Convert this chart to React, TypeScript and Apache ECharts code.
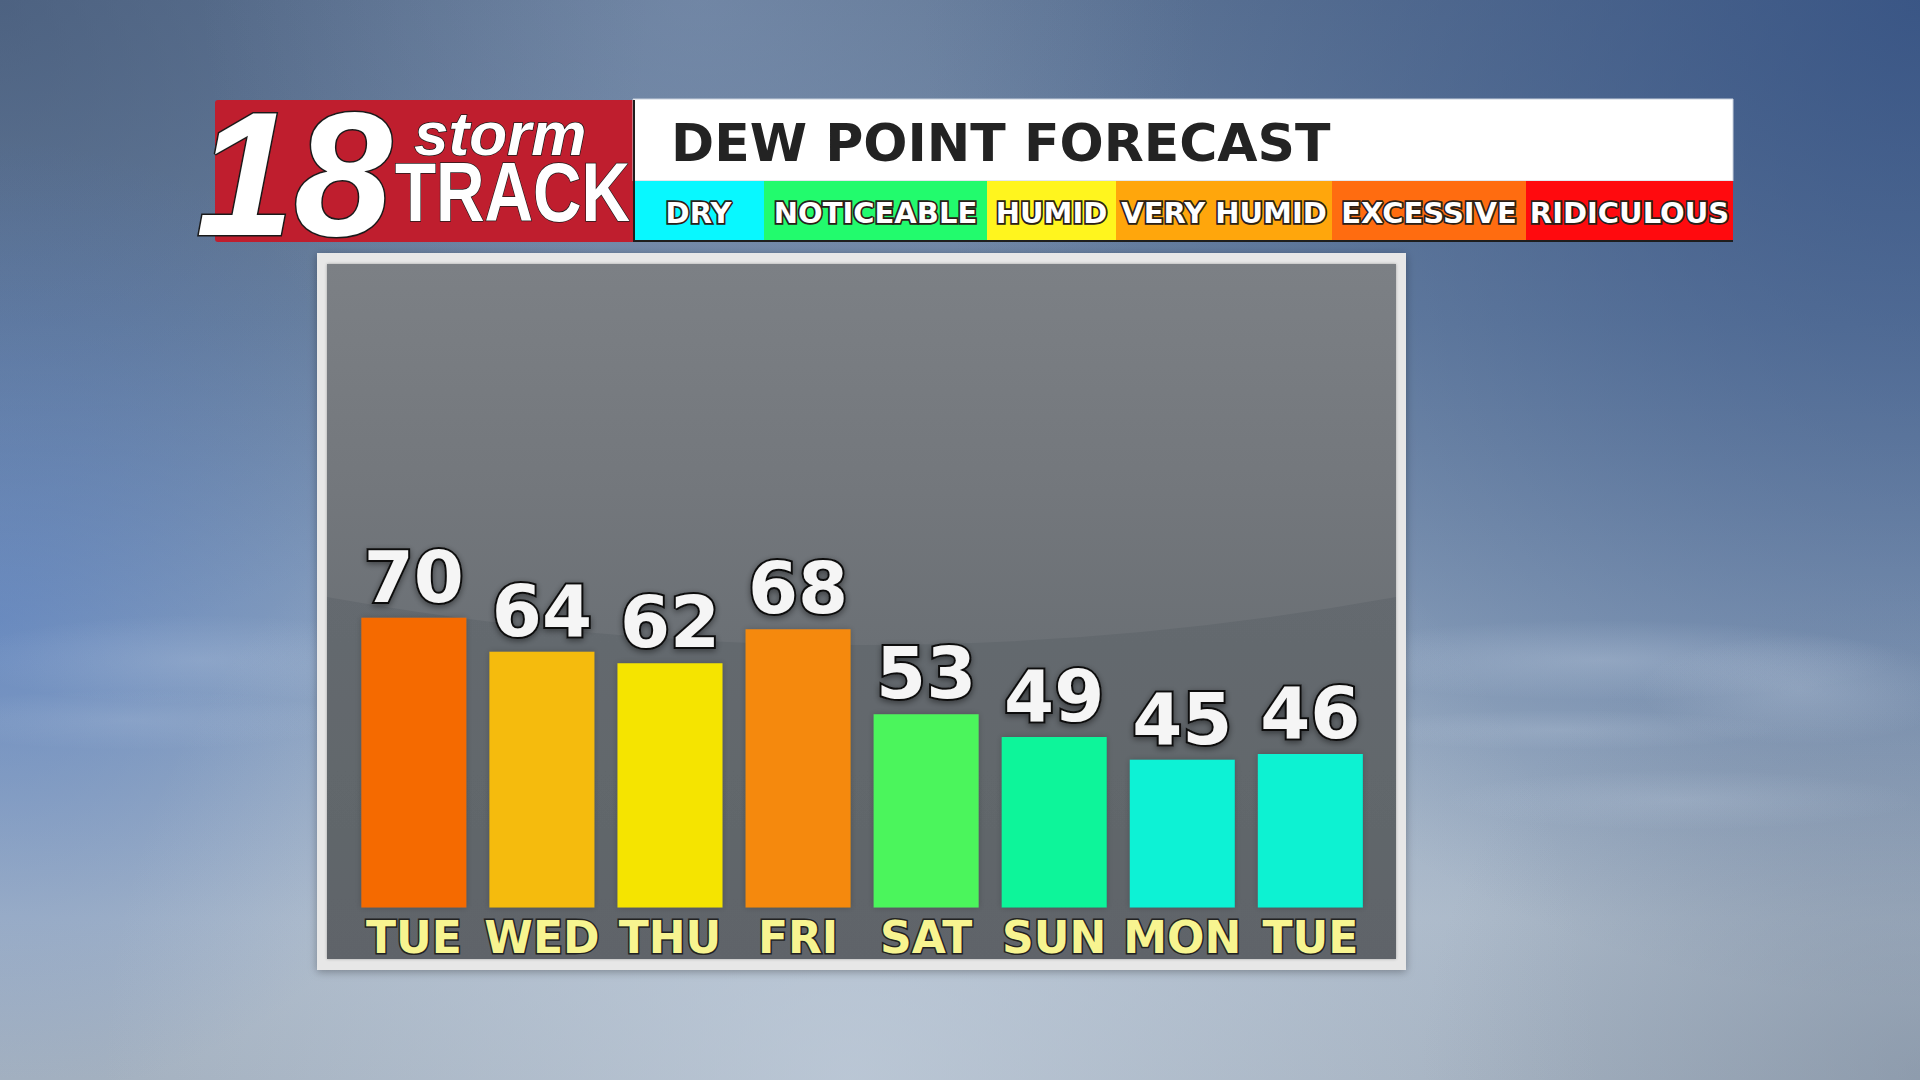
import React, { useEffect, useRef } from "react";
import * as echarts from "echarts";

// ---------- data ----------
const days = ["TUE", "WED", "THU", "FRI", "SAT", "SUN", "MON", "TUE"];
const dewPoints = [70, 64, 62, 68, 53, 49, 45, 46];
const barColors = ["#f56a06", "#f5bb08", "#f5e406", "#f5890a", "#4cf55c", "#08f59a", "#08f2d5", "#08f2d2"];
const legendLabels = ["DRY", "NOTICEABLE", "HUMID", "VERY HUMID", "EXCESSIVE", "RIDICULOUS"];
const legendColors = ["#08f8ff", "#22fb6d", "#fff51e", "#ffa60c", "#ff6c10", "#ff0a0e"];
const titleText = "DEW POINT FORECAST";
const logoNumber = "18";
const logoTop = "storm";
const logoBottom = "TRACK";

// ---------- layout ----------
const LEGEND_EDGES = [633, 764, 987, 1116, 1332, 1526, 1733];
const FONT = "'DejaVu Sans', 'Liberation Sans', sans-serif";
const LOGO_FONT = "'Liberation Sans', Arial, sans-serif";

echarts.graphic.registerShape(
  "panelGlow",
  echarts.graphic.extendPath("M327,264 L1396,264 L1396,597 Q863,693 327,597 Z", {})
);

function blob(cx: number, cy: number, r: number, color: string, z2: number) {
  return {
    type: "circle",
    z: 0,
    z2,
    silent: true,
    shape: { cx, cy, r },
    style: {
      fill: {
        type: "radial",
        x: 0.5,
        y: 0.5,
        r: 0.5,
        colorStops: [
          { offset: 0, color },
          { offset: 1, color: color.replace(/[\d.]+\)$/, "0)") },
        ],
      },
    },
  };
}

function cloud(cx: number, cy: number, rx: number, ry: number, alpha: number, z2: number) {
  return {
    type: "ellipse",
    z: 0,
    z2,
    silent: true,
    shape: { cx, cy, rx, ry },
    style: {
      fill: {
        type: "radial",
        x: 0.5,
        y: 0.5,
        r: 0.5,
        colorStops: [
          { offset: 0, color: `rgba(215,226,240,${alpha})` },
          { offset: 1, color: "rgba(215,226,240,0)" },
        ],
      },
    },
  };
}

export default function App() {
  const ref = useRef<HTMLDivElement>(null);

  useEffect(() => {
    if (!ref.current) return;
    const chart = echarts.init(ref.current, undefined, { renderer: "svg" });

    const bg: any[] = [
      {
        type: "rect",
        z: 0,
        z2: 0,
        silent: true,
        shape: { x: 0, y: 0, width: 1920, height: 1080 },
        style: {
          fill: {
            type: "linear",
            x: 0,
            y: 0,
            x2: 0,
            y2: 1,
            colorStops: [
              { offset: 0, color: "#627896" },
              { offset: 0.3, color: "#7189a8" },
              { offset: 0.6, color: "#8ea3bd" },
              { offset: 0.85, color: "#aab8c8" },
              { offset: 1, color: "#a4b1c0" },
            ],
          },
        },
      },
      blob(1920, 0, 1000, "rgba(45,75,128,0.75)", 1),
      blob(0, 0, 650, "rgba(60,80,112,0.55)", 2),
      blob(0, 620, 480, "rgba(80,122,195,0.55)", 3),
      blob(850, 1080, 750, "rgba(200,212,226,0.6)", 4),
      blob(700, 0, 500, "rgba(140,160,192,0.35)", 5),
      blob(1920, 1080, 500, "rgba(115,130,150,0.45)", 6),
      cloud(1600, 660, 300, 40, 0.25, 7),
      cloud(1800, 690, 160, 55, 0.22, 8),
      cloud(1560, 730, 220, 20, 0.16, 9),
      cloud(1680, 800, 240, 30, 0.16, 10),
      cloud(200, 660, 240, 45, 0.18, 11),
      cloud(130, 720, 220, 30, 0.14, 12),
    ];

    const panel: any[] = [
      {
        type: "rect",
        z: 1,
        z2: 0,
        silent: true,
        shape: { x: 317, y: 253, width: 1089, height: 717 },
        style: { fill: "#e7e7e7", shadowBlur: 8, shadowColor: "rgba(0,0,0,0.3)", shadowOffsetY: 2 },
      },
      {
        type: "rect",
        z: 1,
        z2: 1,
        silent: true,
        shape: { x: 327, y: 264, width: 1069, height: 695 },
        style: {
          fill: {
            type: "linear",
            x: 0,
            y: 0,
            x2: 0,
            y2: 1,
            colorStops: [
              { offset: 0, color: "#6a6f74" },
              { offset: 1, color: "#5f6469" },
            ],
          },
          shadowBlur: 3,
          shadowColor: "rgba(0,0,0,0.3)",
        },
      },
      {
        type: "panelGlow",
        z: 1,
        z2: 2,
        silent: true,
        style: {
          fill: {
            type: "linear",
            x: 0,
            y: 0,
            x2: 0,
            y2: 1,
            colorStops: [
              { offset: 0, color: "#7c8085" },
              { offset: 0.6, color: "#73777c" },
              { offset: 1, color: "#6b7075" },
            ],
          },
        },
      },
    ];

    const header: any[] = [
      {
        type: "rect",
        z: 10,
        z2: 0,
        shape: { x: 215, y: 100, width: 420, height: 142, r: 3 },
        style: { fill: "#bf1e2e" },
      },
      {
        type: "text",
        z: 10,
        z2: 2,
        x: 196,
        y: 174,
        style: {
          text: logoNumber,
          font: `italic bold 176px ${LOGO_FONT}`,
          fill: "#ffffff",
          stroke: "#1a1a1a",
          lineWidth: 3,
          align: "left",
          verticalAlign: "middle",
          textAlign: "left",
          textVerticalAlign: "middle",
        },
      },
      {
        type: "text",
        z: 10,
        z2: 2,
        x: 414,
        y: 133,
        style: {
          text: logoTop,
          font: `italic bold 62px ${LOGO_FONT}`,
          fill: "#ffffff",
          stroke: "#1a1a1a",
          lineWidth: 1.5,
          align: "left",
          verticalAlign: "middle",
          textAlign: "left",
          textVerticalAlign: "middle",
        },
      },
      {
        type: "text",
        z: 10,
        z2: 2,
        x: 395,
        y: 192,
        scaleX: 0.8,
        style: {
          text: logoBottom,
          font: `bold 84px ${LOGO_FONT}`,
          fill: "#ffffff",
          stroke: "#1a1a1a",
          lineWidth: 1.5,
          align: "left",
          verticalAlign: "middle",
          textAlign: "left",
          textVerticalAlign: "middle",
        },
      },
      {
        type: "rect",
        z: 10,
        z2: 0,
        shape: { x: 633, y: 99, width: 1100, height: 82 },
        style: { fill: "#ffffff", stroke: "#c8d0dc", lineWidth: 1 },
      },
      {
        type: "text",
        z: 10,
        z2: 2,
        x: 671,
        y: 143,
        style: {
          text: titleText,
          font: `bold 52px ${FONT}`,
          fill: "#232323",
          align: "left",
          verticalAlign: "middle",
          textAlign: "left",
          textVerticalAlign: "middle",
        },
      },
    ];

    legendLabels.forEach((lab, i) => {
      const x0 = LEGEND_EDGES[i];
      const x1 = LEGEND_EDGES[i + 1];
      header.push({
        type: "rect",
        z: 10,
        z2: 1,
        shape: { x: x0, y: 181, width: x1 - x0, height: 60 },
        style: { fill: legendColors[i] },
      });
      header.push({
        type: "text",
        z: 10,
        z2: 3,
        x: (x0 + x1) / 2,
        y: 213,
        style: {
          text: lab,
          font: `bold 29px ${FONT}`,
          fill: "#ffffff",
          stroke: "#2a2018",
          lineWidth: 3.5,
          align: "center",
          verticalAlign: "middle",
          textAlign: "center",
          textVerticalAlign: "middle",
          strokeFirst: true,
        },
      });
    });
    header.push({
      type: "line",
      z: 10,
      z2: 4,
      shape: { x1: 633, y1: 241, x2: 1733, y2: 241 },
      style: { stroke: "#1e1e1e", lineWidth: 2 },
    });
    header.push({
      type: "line",
      z: 10,
      z2: 4,
      shape: { x1: 634, y1: 100, x2: 634, y2: 242 },
      style: { stroke: "#1e1e1e", lineWidth: 2 },
    });

    chart.setOption({
      animation: false,
      backgroundColor: "transparent",
      grid: { left: 349.8, top: 447.4, width: 1024.6, height: 460, containLabel: false },
      xAxis: {
        type: "category",
        z: 8,
        data: days,
        axisLine: { show: false },
        axisTick: { show: false },
        splitLine: { show: false },
        axisLabel: {
          interval: 0,
          margin: 8,
          fontFamily: FONT,
          fontWeight: "bold",
          fontSize: 44,
          color: "#f7f490",
          textBorderColor: "#222222",
          textBorderWidth: 3,
        },
      },
      yAxis: {
        type: "value",
        min: 19,
        max: 100,
        show: false,
        splitLine: { show: false },
      },
      graphic: { elements: [...bg, ...panel, ...header] },
      series: [
        {
          type: "bar",
          z: 5,
          barWidth: 105,
          data: dewPoints.map((v, i) => ({ value: v, itemStyle: { color: barColors[i] } })),
          itemStyle: { shadowColor: "rgba(0,0,0,0.2)", shadowBlur: 6 },
          label: {
            show: true,
            position: "top",
            distance: 5,
            fontFamily: FONT,
            fontWeight: "bold",
            fontSize: 72,
            color: "#f5f5f5",
            textBorderColor: "#111111",
            textBorderWidth: 4,
            textShadowColor: "rgba(0,0,0,0.45)",
            textShadowBlur: 6,
            textShadowOffsetY: 2,
          },
        },
      ],
    });

    return () => chart.dispose();
  }, []);

  return (
    <div
      ref={ref}
      style={{ position: "absolute", left: 0, top: 0, width: 1920, height: 1080 }}
    />
  );
}
